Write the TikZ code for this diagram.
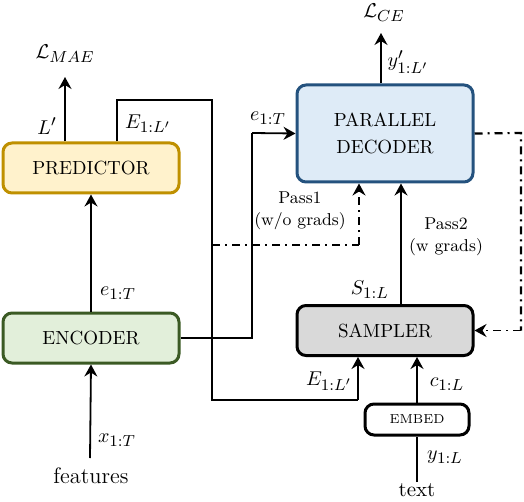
\documentclass[tikz,border=0pt]{standalone}
\usetikzlibrary{arrows.meta}
\DeclareMathSizes{10}{10}{7.6}{6}
\definecolor{predfill}{HTML}{FFF2CC}
\definecolor{predline}{HTML}{BF9000}
\definecolor{encfill}{HTML}{E2EFDA}
\definecolor{encline}{HTML}{3B5A24}
\definecolor{decfill}{HTML}{DEEBF7}
\definecolor{decline}{HTML}{24527E}
\definecolor{samfill}{HTML}{D9D9D9}
\begin{document}
\begin{tikzpicture}[x=0.5pt,y=-0.5pt,
  font=\fontsize{10}{12}\selectfont,
  box/.style={draw, rounded corners=4.5pt, line width=1.5pt, minimum width=88pt, minimum height=25pt, inner sep=0pt, align=center, font=\fontsize{9.5}{12}\selectfont},
  arr/.style={-{Stealth[length=6pt,width=6.5pt,inset=2pt]}, line width=0.9pt},
  ln/.style={line width=0.9pt},
  dd/.style={line width=1.1pt, dash pattern=on 4pt off 2.5pt on 1pt off 2.5pt},
  lbl/.style={inner sep=0pt},
  small/.style={inner sep=0pt, align=center, font=\fontsize{8.6}{11}\selectfont}]
\useasboundingbox (0,0) rectangle (524,502);

% boxes
\node[box, fill=predfill, draw=predline] (pred) at (91,168) {PREDICTOR};
\node[box, fill=encfill, draw=encline] (enc) at (91,338) {ENCODER};
\node[box, fill=decfill, draw=decline, minimum height=48.5pt] (dec) at (385,133.5) {PARALLEL\\[1.5pt]DECODER};
\node[box, fill=samfill] (sam) at (385,330.5) {SAMPLER};
\node[box, minimum width=52pt, minimum height=15.5pt, fill=white, font=\fontsize{6.5}{8}\selectfont] (emb) at (417,419.5) {EMBED};

% labels
\node[lbl] (lmae) at (65,54) {$\mathcal{L}_{MAE}$};
\node[lbl] (lce) at (384,13) {$\mathcal{L}_{CE}$};
\node[lbl] (lp) at (47,126) {$L'$};
\node[lbl] (eup) at (148,124) {$E_{1:L'}$};
\node[lbl] (eenc) at (118,293) {$e_{1:T}$};
\node[lbl] (xin) at (117,440) {$x_{1:T}$};
\node[lbl, font=\fontsize{11.2}{13}\selectfont] (feat) at (91,476) {features};
\node[lbl] (edec) at (268,118) {$e_{1:T}$};
\node[small] (pass1) at (300,211) {Pass1\\(w/o grads)};
\node[small] (pass2) at (446,237) {Pass2\\(w grads)};
\node[lbl] (sl) at (370,290) {$S_{1:L}$};
\node[lbl] (elow) at (329,381) {$E_{1:L'}$};
\node[lbl] (cl) at (447,384) {$c_{1:L}$};
\node[lbl] (yl) at (445,457) {$y_{1:L}$};
\node[lbl, font=\fontsize{10.5}{13}\selectfont] (txt) at (417,490) {text};
\node[lbl] (yp) at (408,62) {$y'_{1:L'}$};

% coordinates
\coordinate (lmaetip) at (65,77);
\coordinate (lcetip) at (381,33);
\coordinate (a1) at (117,100);
\coordinate (a2) at (212,100);
\coordinate (a3) at (212,400);
\coordinate (a4) at (358,400);
\coordinate (b1) at (252,338);
\coordinate (b2) at (252,133);
\coordinate (p1) at (212,245);
\coordinate (p2) at (359,245);
\coordinate (q1) at (521,133);
\coordinate (q2) at (521,330.5);
\coordinate (s1) at (401,330);
\coordinate (featend) at (90,458);
\coordinate (txtend) at (417,482);

% connectors
\draw[arr] (pred.north -| lmaetip) -- (lmaetip);
\draw[arr] (dec.north -| lcetip) -- (lcetip);
\draw[ln] (pred.north -| a1) -- (a1) -- (a2) -- (a3) -- (a4);
\draw[arr] (a4) -- (sam.south -| a4);
\draw[arr] (enc.north) -- (pred.south);
\draw[arr] (featend) -- (enc.south);
\draw[ln] (enc.east) -- (b1) -- (b2);
\draw[arr] (b2) -- (dec.west);
\draw[dd] (p1) -- (p2);
\draw[dd, arr] (p2) -- (dec.south -| p2);
\draw[arr] (sam.north -| s1) -- (dec.south -| s1);
\draw[dd] (dec.east) -- (q1) -- (q2);
\draw[dd, arr] (q2) -- (sam.east);
\draw[arr] (emb.north) -- (sam.south -| emb.north);
\draw[ln] (txtend) -- (emb.south);
\end{tikzpicture}
\end{document}
